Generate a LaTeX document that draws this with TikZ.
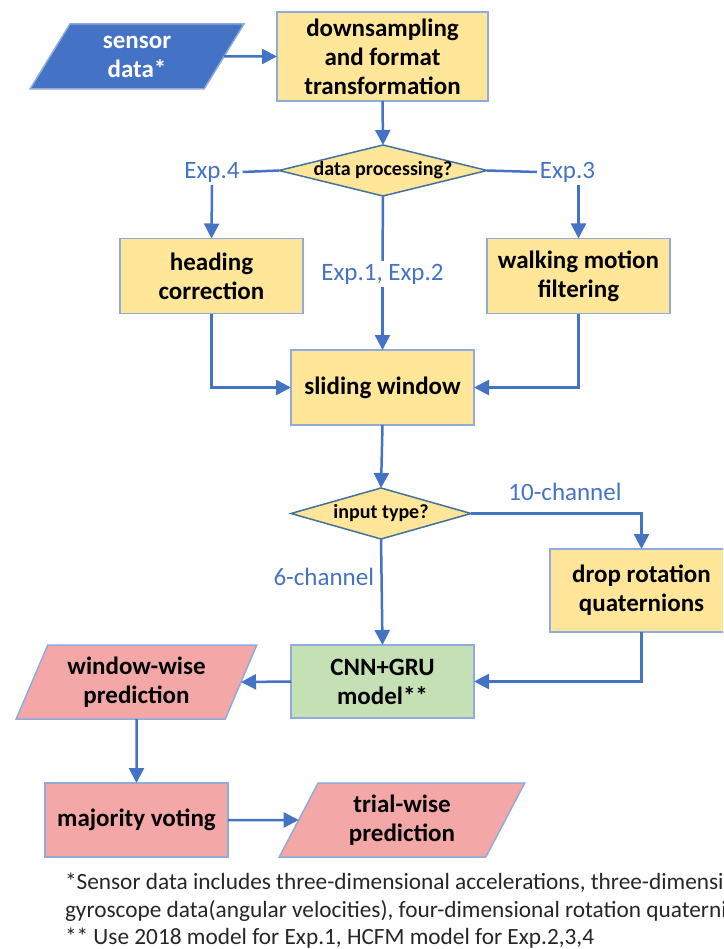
\documentclass[tikz,border=0pt]{standalone}
\usepackage{fontspec}
\setmainfont{Carlito}
\usetikzlibrary{shapes.geometric,arrows.meta}
\definecolor{flowblue}{HTML}{4472C4}
\definecolor{boxline}{HTML}{8FAADC}
\definecolor{procfill}{HTML}{FFE699}
\definecolor{modelfill}{HTML}{C5E0B4}
\definecolor{outfill}{HTML}{F4A7A7}
\definecolor{diaedge}{HTML}{41719C}
\definecolor{notegray}{HTML}{262626}
\begin{document}
\begin{tikzpicture}[x=1pt,y=-1pt,
  every node/.style={inner sep=0pt,outer sep=0pt},
  boxtext/.style={font=\bfseries\fontsize{25}{29}\selectfont,align=center},
  procbox/.style={boxtext,rectangle,draw=boxline,line width=1.5pt,fill=procfill,
    minimum width=183pt,minimum height=75pt},
  slanted/.style={boxtext,trapezium,trapezium left angle=64,trapezium right angle=116,
    trapezium stretches=true,draw=boxline,line width=1.5pt},
  decision/.style={diamond,draw=diaedge,line width=1.5pt,fill=procfill},
  dectext/.style={font=\bfseries\fontsize{20}{24}\selectfont},
  link/.style={draw=flowblue,line width=2.5pt},
  flow/.style={link,-{Triangle[width=15pt,length=15pt]}},
  explabel/.style={text=flowblue,font=\fontsize{25}{29}\selectfont,inner sep=3pt},
  note/.style={text=notegray,font=\fontsize{23.3}{27}\selectfont,anchor=base west}
]
\useasboundingbox (0,0) rectangle (723,949);
\clip (0,0) rectangle (723,949);

% ---- shapes ----
\node[slanted,fill=flowblue,draw=boxline,text=white,minimum width=214pt,minimum height=65pt]
  (sensor) at (137,56.5) {sensor\\data*};
\node[procbox,minimum width=211pt,minimum height=89pt] (down) at (382.5,56.5)
  {downsampling\\and format\\transformation};
\node[decision,minimum width=208pt,minimum height=51pt,
  label={[dectext]center:data processing?}] (dp) at (383,170.5) {};
\node[procbox] (head) at (211.5,276) {heading\\correction};
\node[procbox] (walk) at (578.5,276) {walking motion\\filtering};
\node[procbox] (slide) at (382.5,387.5) {sliding window};
\node[decision,minimum width=180pt,minimum height=51pt,
  label={[dectext]center:input type?}] (it) at (381,513.5) {};
\node[procbox,minimum height=83pt] (drop) at (641.5,590.5) {drop rotation\\quaternions};
\node[procbox,fill=modelfill,minimum height=73pt] (cnn) at (382.5,681.5) {CNN+GRU\\model**};
\node[slanted,fill=outfill,minimum width=241pt,minimum height=74pt]
  (ww) at (136.5,682) {window-wise\\prediction};
\node[procbox,fill=outfill,minimum height=74pt] (maj) at (136.5,820) {majority voting};
\node[slanted,fill=outfill,minimum width=246pt,minimum height=74pt]
  (tw) at (402,820) {trial-wise\\prediction};

% ---- branch labels ----
\node[explabel] (e4) at (212,172) {Exp.4};
\node[explabel] (e3) at (567.5,172) {Exp.3};
\node[explabel] (e12) at (382.5,274) {Exp.1, Exp.2};
\node[explabel] (c10) at (565,492) {10-channel};
\node[explabel,anchor=east] (c6) at (377,577) {6-channel};

% ---- connectors ----
\draw[flow] (sensor.east) -- (down.west);
\draw[flow] (down.south) -- (dp.north);
\draw[link] (dp.west) -- (e4.east);
\draw[flow] (e4.south) -- (head.north);
\draw[link] (dp.east) -- (e3.west);
\draw[flow] (walk.north |- e3.south) -- (walk.north);
\draw[link] (dp.south) -- (e12.north);
\draw[flow] (e12.south) -- (slide.north);
\draw[flow] (head.south) |- (slide.west);
\draw[flow] (walk.south) |- (slide.east);
\draw[flow] (slide.south) -- (it.north);
\draw[flow] (it.east) -| (drop.north);
\draw[flow] (it.south) -- (cnn.north);
\draw[flow] (drop.south) |- (cnn.east);
\draw[flow] (cnn.west) -- (ww.east);
\draw[flow] (ww.south) -- (maj.north);
\draw[flow] (maj.east) -- (tw.west);

% ---- footnotes ----
\node[note] (fn1) at (65,889) {*Sensor data includes three-dimensional accelerations, three-dimensional};
\node[note] (fn2) at (65,917) {gyroscope data(angular velocities), four-dimensional rotation quaternions};
\node[note] (fn3) at (65,944) {** Use 2018 model for Exp.1, HCFM model for Exp.2,3,4};
\end{tikzpicture}
\end{document}
